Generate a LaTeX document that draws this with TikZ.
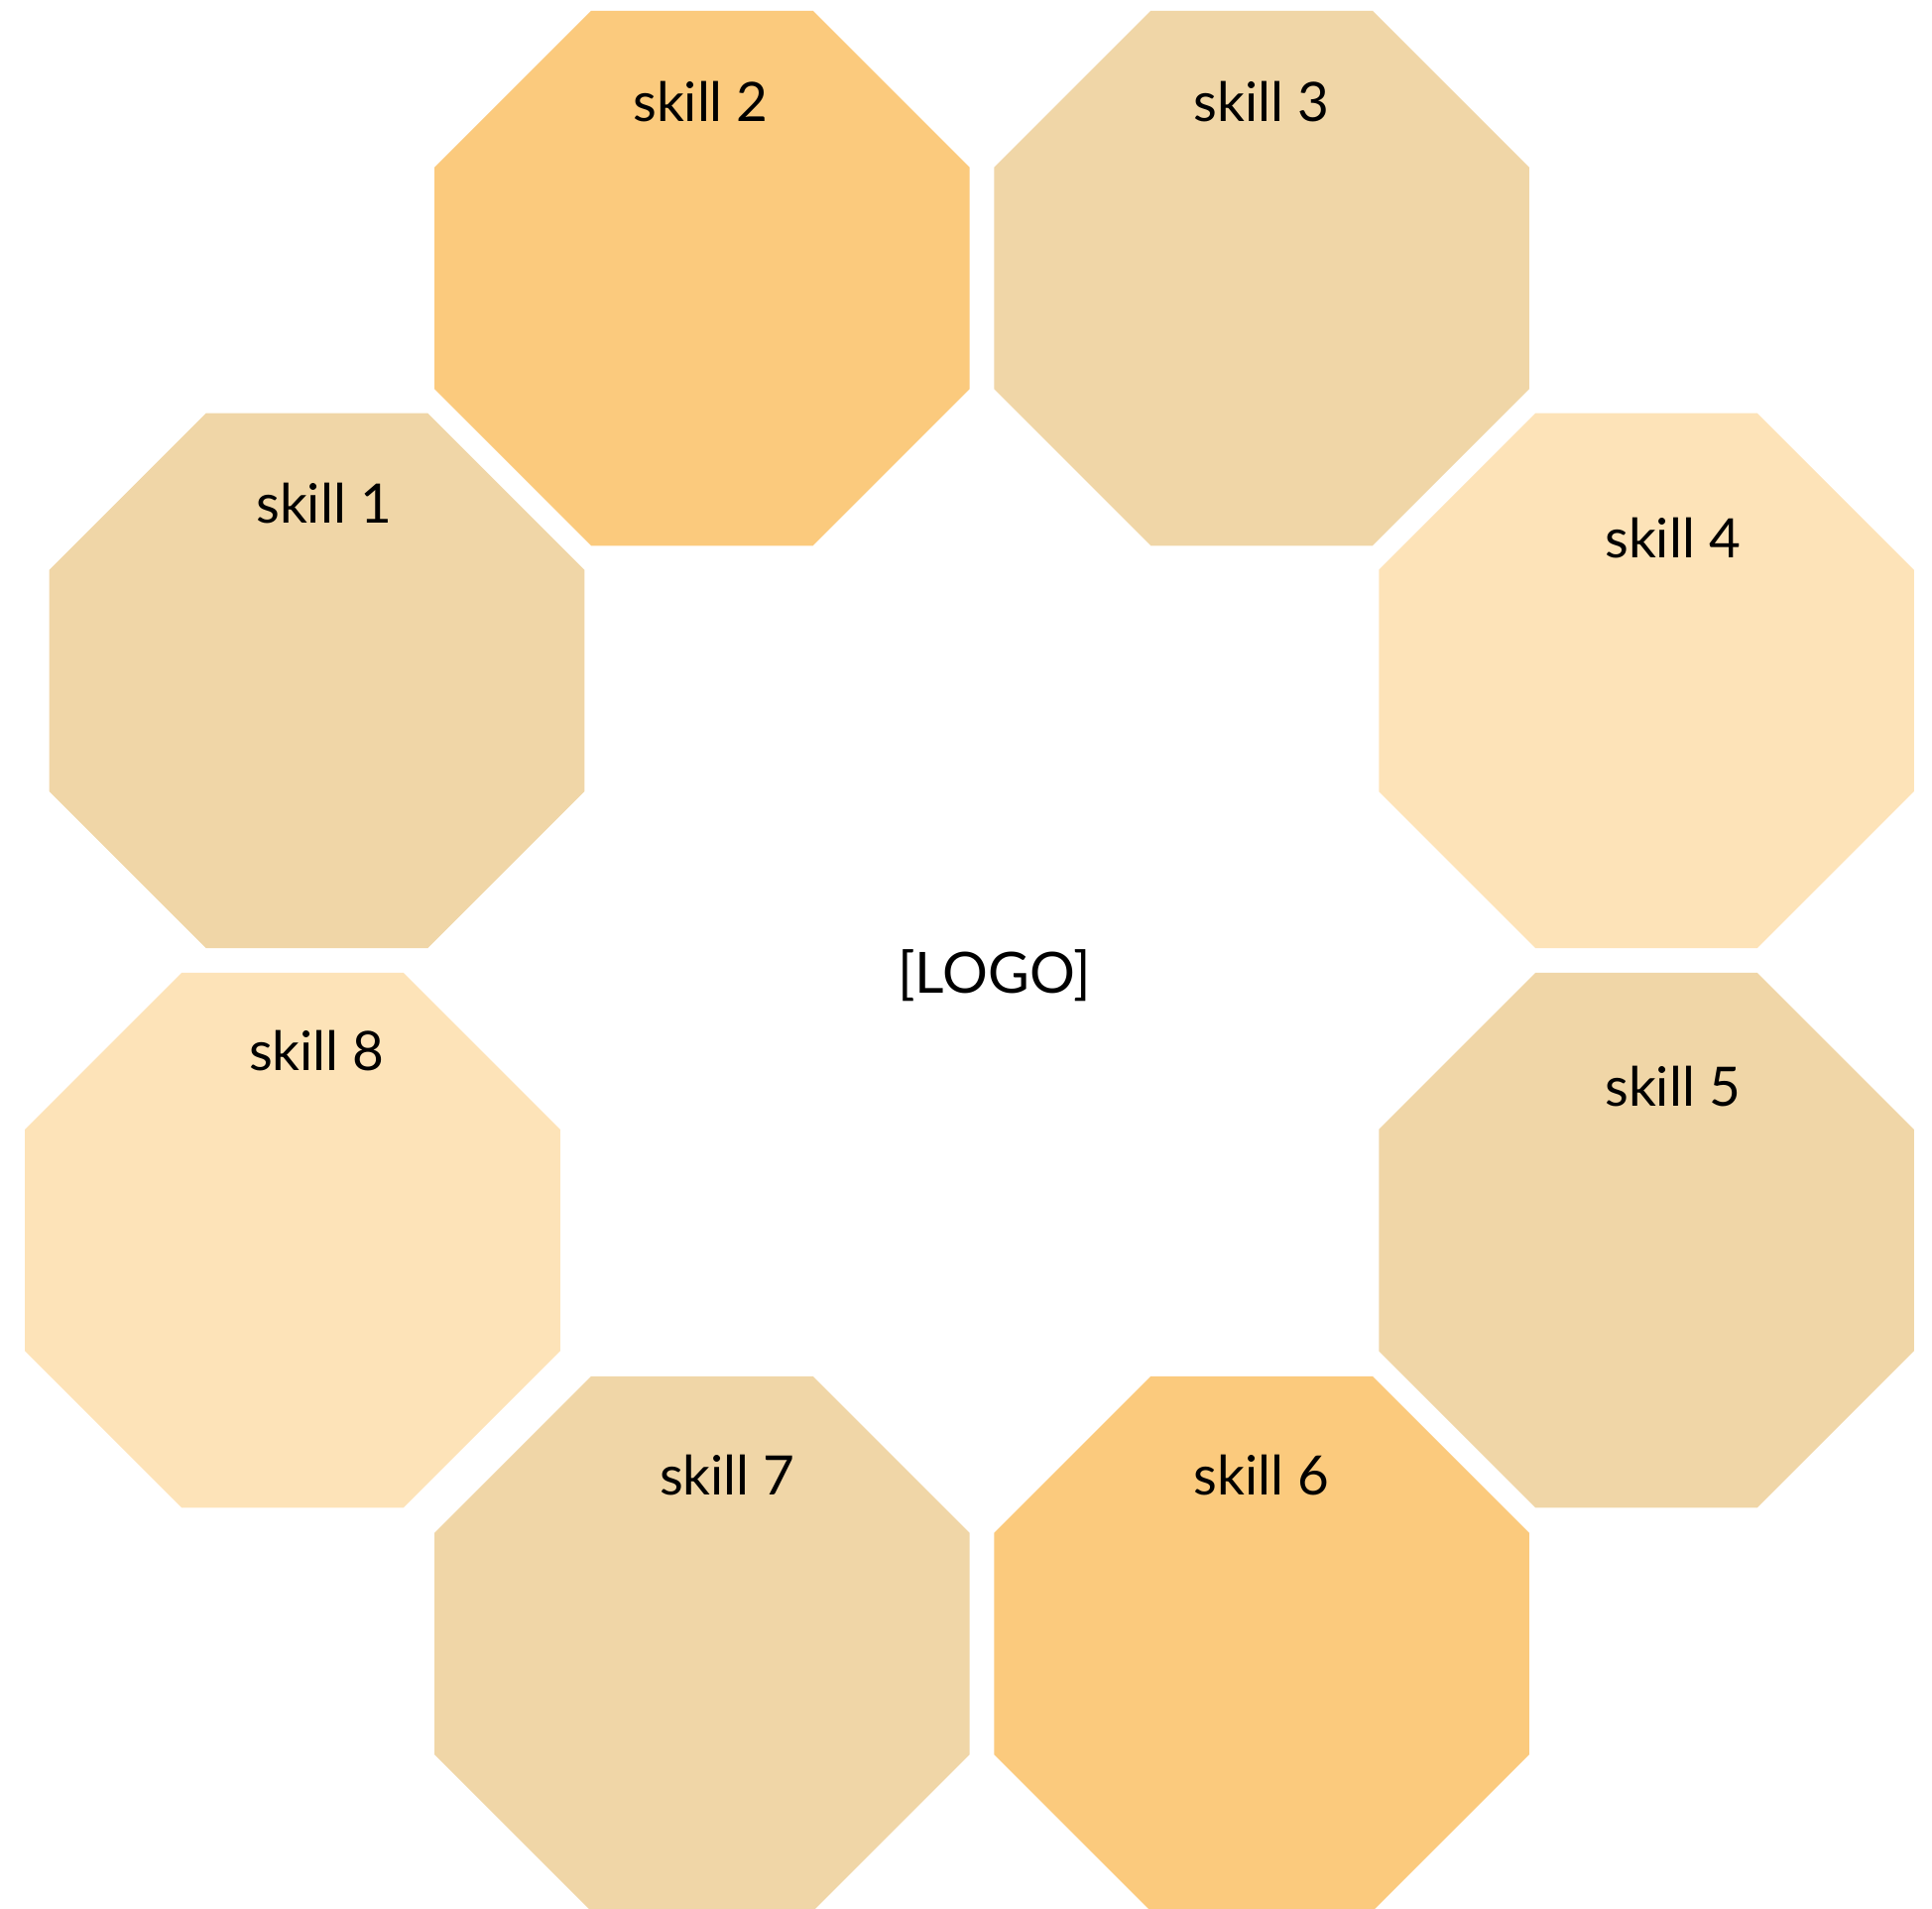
\documentclass[tikz,border=0pt]{standalone}
\usepackage{fontspec}
\setmainfont{Lato}
\usepackage{xcolor}
\definecolor{skorange}{HTML}{FBCA7D}
\definecolor{sktan}{HTML}{F0D6A7}
\definecolor{skcream}{HTML}{FDE3B8}
\usepackage{tikz}
\usetikzlibrary{shapes.geometric}
\tikzset{
  skilloct/.style={regular polygon, regular polygon sides=8, minimum size=5.84cm,
                   inner sep=0pt, outer sep=0pt, draw=none},
  skilllbl/.style={anchor=base, text=black, inner sep=0pt, font=\fontsize{15.6}{19}\selectfont},
  logolbl/.style={anchor=base, text=black, inner sep=0pt, font=\fontsize{16.3}{20}\selectfont},
}
\begin{document}
\begin{tikzpicture}
  \clip (0,0) rectangle (19.48,-19.24);
  \node[skilloct, fill=sktan]    (oct1) at (3.195,-6.864)   {};
  \node[skilloct, fill=skorange] (oct2) at (7.078,-2.805)   {};
  \node[skilloct, fill=sktan]    (oct3) at (12.721,-2.805)  {};
  \node[skilloct, fill=skcream]  (oct4) at (16.600,-6.864)  {};
  \node[skilloct, fill=sktan]    (oct5) at (16.600,-12.505) {};
  \node[skilloct, fill=skorange] (oct6) at (12.721,-16.575) {};
  \node[skilloct, fill=sktan]    (oct7) at (7.078,-16.575)  {};
  \node[skilloct, fill=skcream]  (oct8) at (2.950,-12.505)  {};
  \node[skilllbl] (lbl1) at (3.266,-5.273)   {skill 1};
  \node[skilllbl] (lbl2) at (7.065,-1.223)   {skill 2};
  \node[skilllbl] (lbl3) at (12.720,-1.223)  {skill 3};
  \node[skilllbl] (lbl4) at (16.866,-5.627)  {skill 4};
  \node[skilllbl] (lbl5) at (16.866,-11.155) {skill 5};
  \node[skilllbl] (lbl6) at (12.720,-15.075) {skill 6};
  \node[skilllbl] (lbl7) at (7.334,-15.075)  {skill 7};
  \node[skilllbl] (lbl8) at (3.193,-10.790)  {skill 8};
  \node[logolbl]  (logo) at (10.025,-10.017) {[LOGO]};
\end{tikzpicture}
\end{document}
